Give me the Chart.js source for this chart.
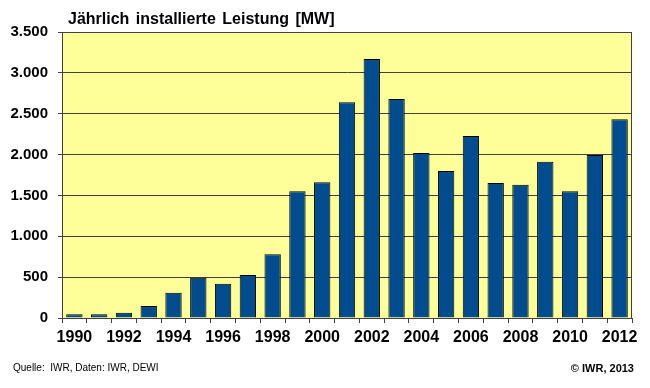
<!DOCTYPE html>
<html>
<head>
<meta charset="utf-8">
<script src="https://cdn.jsdelivr.net/npm/chart.js@4"></script>
<style>
  html, body { margin: 0; padding: 0; background: #fff; }
  #wrap { position: relative; width: 650px; height: 388px; }
  canvas { position: absolute; left: 0; top: 0; }
  .txt { position: absolute; font-family: "Liberation Sans", Arial, sans-serif; color: #000; white-space: nowrap; }
  #title { left: 68px; top: 10px; font-size: 16px; font-weight: bold; word-spacing: 2px; }
  #src { left: 13px; top: 362px; font-size: 10px; }
  #copy { right: 16px; top: 362px; font-size: 11px; font-weight: bold; }
</style>
</head>
<body>
<div id="wrap">
  <canvas id="c" width="650" height="388"></canvas>
  <div class="txt" id="title">Jährlich installierte Leistung [MW]</div>
  <div class="txt" id="src">Quelle:&nbsp; IWR, Daten: IWR, DEWI</div>
  <div class="txt" id="copy">© IWR, 2013</div>
</div>
<script>
const years = ["1990","1991","1992","1993","1994","1995","1996","1997","1998","1999","2000","2001",
               "2002","2003","2004","2005","2006","2007","2008","2009","2010","2011","2012"];
const installedMW = [45, 45, 65, 147, 310, 494, 420, 526, 780, 1551, 1661, 2640,
                     3170, 2680, 2020, 1800, 2228, 1652, 1632, 1913, 1551, 1995, 2432];
const yTicks = [0, 500, 1000, 1500, 2000, 2500, 3000, 3500];

const plotBg = {
  id: 'plotBg',
  beforeDraw(chart) {
    const a = chart.chartArea, ctx = chart.ctx;
    ctx.save();
    ctx.fillStyle = '#FFFF99';
    ctx.fillRect(a.left, a.top, a.right - a.left, a.bottom - a.top);
    ctx.restore();
  },
  afterDraw(chart) {
    const a = chart.chartArea, ctx = chart.ctx;
    ctx.save();
    ctx.strokeStyle = '#404040';
    ctx.lineWidth = 1;
    ctx.strokeRect(a.left + 0.5, a.top + 0.5, a.right - a.left - 1, a.bottom - a.top);
    ctx.restore();
  }
};

new Chart(document.getElementById('c'), {
  type: 'bar',
  data: {
    labels: years,
    datasets: [{
      data: installedMW,
      backgroundColor: '#004C8F',
      borderColor: '#000000',
      borderWidth: 1,
      categoryPercentage: 1.0,
      barPercentage: 0.66
    }]
  },
  options: {
    responsive: false,
    animation: false,
    layout: { padding: { left: 0, right: 18, top: 32, bottom: 40 } },
    plugins: { legend: { display: false }, tooltip: { enabled: false }, title: { display: false } },
    scales: {
      x: {
        offset: true,
        grid: { display: true, drawOnChartArea: false, drawTicks: true, tickLength: 5, offset: true, color: '#404040' },
        border: { display: true, color: '#404040' },
        ticks: {
          autoSkip: false, maxRotation: 0, padding: 5,
          font: { family: '"Liberation Sans", Arial, sans-serif', size: 16, weight: 'bold' },
          color: '#000',
          callback: function(v, i) { return i % 2 === 0 ? years[i] : ''; }
        },
        afterFit(scale) { scale.height = 30; }
      },
      y: {
        min: 0, max: 3500,
        afterBuildTicks(scale) { scale.ticks = yTicks.map(v => ({ value: v })); },
        grid: { color: '#404040', tickLength: 4, drawTicks: true },
        border: { display: true, color: '#404040' },
        ticks: {
          padding: 10,
          font: { family: '"Liberation Sans", Arial, sans-serif', size: 15, weight: 'bold' },
          color: '#000',
          callback: v => v.toLocaleString('de-DE')
        },
        afterFit(scale) { scale.width = 62; }
      }
    }
  },
  plugins: [plotBg]
});
</script>
</body>
</html>
